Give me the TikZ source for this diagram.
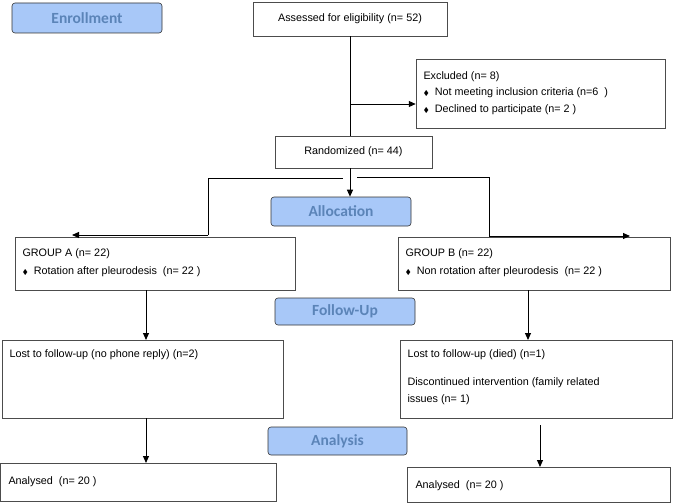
\documentclass[tikz,border=0pt]{standalone}
\usepackage{amssymb}
\usepackage{fontspec}
\setmainfont{Liberation Sans}
\newfontfamily\hdr{Carlito}
\usetikzlibrary{arrows.meta}
\definecolor{hfill}{HTML}{A8C8F8}
\definecolor{htext}{HTML}{5B84B8}
\newcommand{\dia}{{\fontsize{7}{7}\selectfont$\blacklozenge$}}
\begin{document}
\begin{tikzpicture}[x=1pt,y=-1pt,
  hbox/.style={draw=black!80,line width=0.6pt,rounded corners=3pt,fill=hfill,font=\hdr\bfseries\fontsize{15.5}{18}\selectfont,text=htext},
  tbox/.style={draw=black!70,line width=0.5pt,font=\fontsize{10.8}{13}\selectfont},
  txt/.style={anchor=west,font=\fontsize{10.8}{13}\selectfont},
  arr/.style={-{Triangle[length=7pt,width=6pt]},line width=1pt}]
\useasboundingbox (0,0) rectangle (685,503);
% headers
\node[hbox,minimum width=150pt,minimum height=30pt] (enr) at (87,18) {Enrollment};
\node[hbox,minimum width=140pt,minimum height=29pt] (all) at (341,211.5) {Allocation};
\node[hbox,minimum width=140pt,minimum height=27pt] (fol) at (345,311.5) {Follow-Up};
\node[hbox,minimum width=139pt,minimum height=28pt] (ana) at (337.5,441) {Analysis};
% boxes
\node[tbox,minimum width=194pt,minimum height=34pt] (ass) at (350,19) {Assessed for eligibility (n= 52)};
\node[tbox,minimum width=249pt,minimum height=69pt] (exc) at (540.5,93.5) {};
\node[txt] (e1) at (420,77) {Excluded (n= 8)};
\node[txt] (e2) at (420,93) {\dia\ \ Not meeting inclusion criteria (n=6\ \ )};
\node[txt] (e3) at (420,110) {\dia\ \ Declined to participate (n= 2 )};
\node[tbox,minimum width=157pt,minimum height=32pt] (ran) at (353.5,152) {Randomized (n= 44)};
\node[tbox,minimum width=280pt,minimum height=53pt] (ga) at (155,264) {};
\node[txt] (ga1) at (19,254) {GROUP A (n= 22)};
\node[txt] (ga2) at (19,272) {\dia\ \ Rotation after pleurodesis\ \ (n= 22 )};
\node[tbox,minimum width=272pt,minimum height=53pt] (gb) at (534,264) {};
\node[txt] (gb1) at (402,254) {GROUP B (n= 22)};
\node[txt] (gb2) at (402,272) {\dia\ \ Non rotation after pleurodesis\ \ (n= 22 )};
\node[tbox,minimum width=281pt,minimum height=78pt] (la) at (142.5,379) {};
\node[txt] (la1) at (6,355) {Lost to follow-up (no phone reply) (n=2)};
\node[tbox,minimum width=272pt,minimum height=78pt] (lb) at (536,379) {};
\node[txt] (lb1) at (404,355) {Lost to follow-up (died) (n=1)};
\node[txt] (lb2) at (404,383) {Discontinued intervention (family related};
\node[txt] (lb3) at (404,400) {issues (n= 1)};
\node[tbox,minimum width=276pt,minimum height=38pt] (aa) at (138,482) {};
\node[txt] (aa1) at (5,482) {Analysed\ \ (n= 20 )};
\node[tbox,minimum width=263pt,minimum height=35pt] (ab) at (538.5,484.5) {};
\node[txt] (ab1) at (412,486) {Analysed\ \ (n= 20 )};
% connectors
\coordinate (j1) at (350,104);
\draw[line width=1pt] (ass.south) -- (ran.north -| ass.south);
\draw[arr] (j1) -- (exc.west|-j1);
\draw[arr] (ran.south -| 350,0) -- (all.north -| 350,0);
\draw[line width=1pt] (208,235) -- (208,178) -- (343,178);
\draw[line width=1pt] (357,177) -- (489,177) -- (489,236);
\draw[arr] (208,235) -- (72,235);
\draw[arr] (489,236) -- (630,236);
\draw[arr] (146,290) -- (146,340);
\draw[arr] (528,290) -- (528,340);
\draw[arr] (146,418) -- (146,463);
\draw[arr] (540,425) -- (540,467);
\end{tikzpicture}
\end{document}
